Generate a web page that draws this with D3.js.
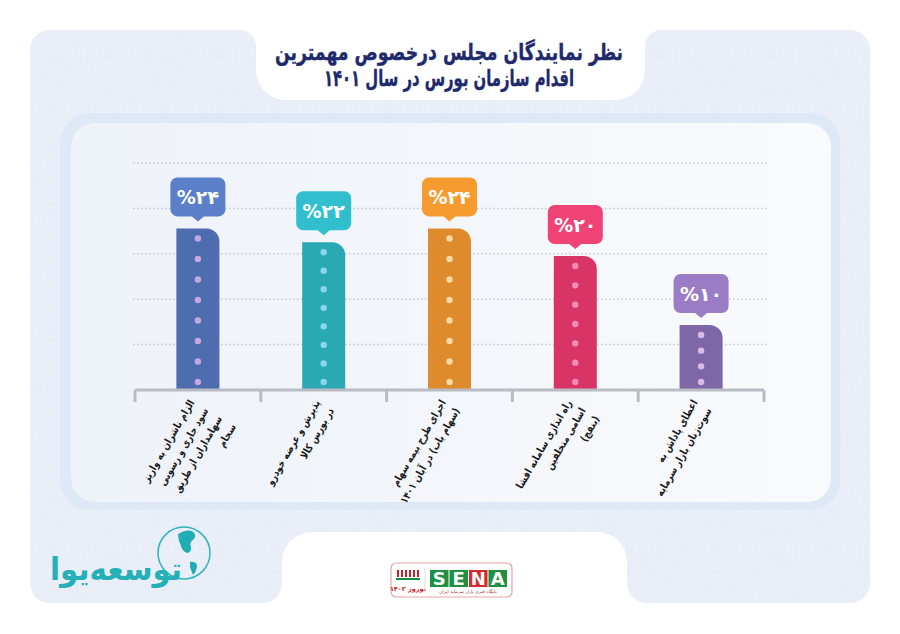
<!DOCTYPE html>
<html>
<head>
<meta charset="utf-8">
<script src="https://cdn.jsdelivr.net/npm/d3@7"></script>
<style>
  html, body { margin: 0; padding: 0; background: #ffffff; }
  svg { display: block; }
  text { font-family: "DejaVu Sans", "Noto Sans", sans-serif; }
</style>
</head>
<body>
<svg id="chart" width="900" height="634"></svg>
<script>
// ---------------- data ----------------
const titleLines = ["نظر نمایندگان مجلس درخصوص مهمترین", "اقدام سازمان بورس در سال ۱۴۰۱"];
const categories = ["c1", "c2", "c3", "c4", "c5"];
const categoryLabels = [
  ["الزام ناشران به واریز", "سود جاری و رسوبی", "سهامداران از طریق", "سجام"],
  ["پذیرش و عرضه خودرو", "در بورس کالا"],
  ["اجرای طرح بیمه سهام", "(سهام یاب) در آبان ۱۴۰۱"],
  ["راه اندازی سامانه افشا", "اسامی متخلفین", "(بنفج)"],
  ["اعطای پاداش به", "سوت‌زنان بازار سرمایه"]
];
const values = [24, 22, 24, 20, 10];
const valueLabels = ["%۲۴", "%۲۲", "%۲۴", "%۲۰", "%۱۰"];
const barColors = ["#4e6daf", "#2aa8b4", "#de8b2e", "#d83566", "#7e67a6"];
const boxColors = ["#5b80c9", "#31bfcd", "#f69b30", "#ef4376", "#9b7dc5"];
const dotColors = ["#c6a7e2", "#8ad6ec", "#fcd8a3", "#f18cb5", "#d9b8ea"];
const gridLevels = [1, 2, 3, 4, 5];

// ---------------- layout ----------------
const svg = d3.select("#chart");
const axisY = 390;
const x = d3.scaleBand().domain(categories).range([135, 764]).paddingInner(0.658).paddingOuter(0.329);
const y = d3.scaleLinear().domain([0, 30]).range([394, 187]);
const gridY = d3.scaleLinear().domain([0, 5]).range([axisY, 163]);

const defs = svg.append("defs");
const ig = defs.append("linearGradient").attr("id", "innerGrad").attr("x1", 0).attr("x2", 1).attr("y1", 0).attr("y2", 0);
ig.append("stop").attr("offset", "0%").attr("stop-color", "#eef2f9");
ig.append("stop").attr("offset", "100%").attr("stop-color", "#f9fafc");

// subtle swirl texture pattern
const pat = defs.append("pattern").attr("id", "swirl").attr("patternUnits", "userSpaceOnUse")
  .attr("width", 110).attr("height", 110);
pat.append("rect").attr("width", 110).attr("height", 110).attr("fill", "#e8edf7");
[[0, 0], [110, 0], [55, 55], [0, 110], [110, 110]].forEach(([cx, cy]) => {
  for (let r = 6; r <= 50; r += 6) {
    pat.append("circle").attr("cx", cx).attr("cy", cy).attr("r", r)
      .attr("fill", "none").attr("stroke", "#eef2f9").attr("stroke-width", 1).attr("opacity", 0.6);
  }
});

// outer panel with notches
const outer = d3.path();
outer.moveTo(50, 30);
outer.lineTo(240, 30);
outer.arcTo(256, 30, 256, 46, 16);
outer.lineTo(256, 70);
outer.arcTo(256, 100, 286, 100, 30);
outer.lineTo(615, 100);
outer.arcTo(645, 100, 645, 70, 30);
outer.lineTo(645, 46);
outer.arcTo(645, 30, 661, 30, 16);
outer.lineTo(850, 30);
outer.arcTo(870, 30, 870, 50, 20);
outer.lineTo(870, 583);
outer.arcTo(870, 603, 850, 603, 20);
outer.lineTo(647, 603);
outer.arcTo(627, 603, 627, 583, 20);
outer.lineTo(627, 562);
outer.arcTo(627, 532, 597, 532, 30);
outer.lineTo(312, 532);
outer.arcTo(282, 532, 282, 562, 30);
outer.lineTo(282, 583);
outer.arcTo(282, 603, 262, 603, 20);
outer.lineTo(50, 603);
outer.arcTo(30, 603, 30, 583, 20);
outer.lineTo(30, 50);
outer.arcTo(30, 30, 50, 30, 20);
outer.closePath();
svg.append("path").attr("d", outer.toString()).attr("fill", "url(#swirl)");

// inner panel
svg.append("rect").attr("x", 60).attr("y", 113).attr("width", 780).attr("height", 397)
  .attr("rx", 30).attr("fill", "#dfe8f6");
svg.append("rect").attr("x", 71).attr("y", 123).attr("width", 760).attr("height", 379)
  .attr("rx", 24).attr("fill", "url(#innerGrad)");

// title
const titleLen = [348, 250];
svg.append("g").selectAll("text").data(titleLines).join("text")
  .attr("x", (d, i) => 449 - titleLen[i] / 2).attr("y", (d, i) => 60 + i * 26)
  .attr("text-anchor", "start").attr("direction", "ltr")
  .attr("textLength", (d, i) => titleLen[i]).attr("lengthAdjust", "spacingAndGlyphs")
  .attr("font-size", 23).attr("font-weight", "bold").attr("fill", "#1e2a6c")
  .attr("stroke", "#1e2a6c").attr("stroke-width", 0.4)
  .text(d => d);

// gridlines
svg.append("g").selectAll("line").data(gridLevels).join("line")
  .attr("x1", 133).attr("x2", 767)
  .attr("y1", d => gridY(d)).attr("y2", d => gridY(d))
  .attr("stroke", "#c4c8d0").attr("stroke-width", 1.5).attr("stroke-dasharray", "1.5,2.5");

// bars
const bw = x.bandwidth();
const barG = svg.append("g").selectAll("g").data(values).join("g");
barG.append("path")
  .attr("d", (d, i) => {
    const x0 = x(categories[i]), x1 = x0 + bw, top = y(d), r = 13;
    const p = d3.path();
    p.moveTo(x0, axisY);
    p.lineTo(x0, top);
    p.lineTo(x1 - r, top);
    p.arcTo(x1, top, x1, top + r, r);
    p.lineTo(x1, axisY);
    p.closePath();
    return p.toString();
  })
  .attr("fill", (d, i) => barColors[i]);

// dots inside bars
barG.each(function (d, i) {
  const n = Math.ceil(d / 3);
  const top = y(d) + 10, bottom = 382;
  const cx = x(categories[i]) + bw / 2;
  const pts = d3.range(n).map(k => bottom - k * (bottom - top) / (n - 1));
  d3.select(this).selectAll("circle").data(pts).join("circle")
    .attr("cx", cx).attr("cy", p => p).attr("r", 3.2).attr("fill", dotColors[i]);
});

// value boxes
const boxW = 55, boxH = 39;
barG.append("path")
  .attr("d", (d, i) => {
    const cx = x(categories[i]) + bw / 2, bottom = y(d) - 12, top = bottom - boxH, r = 7;
    const l = cx - boxW / 2, rr = cx + boxW / 2;
    const p = d3.path();
    p.moveTo(l + r, top);
    p.lineTo(rr - r, top);
    p.arcTo(rr, top, rr, top + r, r);
    p.lineTo(rr, bottom - r);
    p.arcTo(rr, bottom, rr - r, bottom, r);
    p.lineTo(cx + 6, bottom);
    p.lineTo(cx, bottom + 5);
    p.lineTo(cx - 6, bottom);
    p.lineTo(l + r, bottom);
    p.arcTo(l, bottom, l, bottom - r, r);
    p.lineTo(l, top + r);
    p.arcTo(l, top, l + r, top, r);
    p.closePath();
    return p.toString();
  })
  .attr("fill", (d, i) => boxColors[i]);
barG.append("text")
  .attr("x", (d, i) => x(categories[i]) + bw / 2)
  .attr("y", d => y(d) - 12 - boxH / 2 + 7)
  .attr("text-anchor", "middle").attr("direction", "ltr")
  .attr("font-size", 19).attr("font-weight", "bold").attr("fill", "#ffffff")
  .text((d, i) => valueLabels[i]);

// axis
svg.append("line").attr("x1", 135).attr("x2", 764).attr("y1", axisY).attr("y2", axisY)
  .attr("stroke", "#b9bcc3").attr("stroke-width", 3);
const tickXs = categories.map(c => x(c) - x.step() * x.paddingOuter()).concat([764]);
svg.append("g").selectAll("line").data(tickXs).join("line")
  .attr("x1", d => d).attr("x2", d => d).attr("y1", axisY).attr("y2", 402)
  .attr("stroke", "#b9bcc3").attr("stroke-width", 3);

// category labels (rotated, RTL)
const lab = svg.append("g").selectAll("g").data(categoryLabels).join("g")
  .attr("transform", (d, i) => `translate(${x(categories[i]) + bw / 2 - 11},398) rotate(-60) scale(0.84,1)`);
lab.selectAll("text").data(d => d).join("text")
  .attr("x", 0).attr("y", (d, k) => 9 + k * 16)
  .attr("direction", "rtl").attr("text-anchor", "start")
  .attr("font-size", 10.5).attr("font-weight", "bold").attr("fill", "#1a1a1a")
  .text(d => d);

// ---------------- logos ----------------
// left brand logo
const lg = svg.append("g");
lg.append("circle").attr("cx", 184).attr("cy", 553).attr("r", 26)
  .attr("fill", "none").attr("stroke", "#2bb5bb").attr("stroke-width", 1.5);
lg.append("path").attr("d", "M178,534 q7,-5 14,-3 q5,3 2,8 q-5,3 -3,8 q1,5 -4,6 q-5,-2 -6,-7 q-3,-6 -3,-12 z")
  .attr("fill", "#22adb4");
lg.append("path").attr("d", "M190,562 q5,-1 7,3 q0,6 -4,10 q-2,-5 -3,-8 z").attr("fill", "#22adb4");
lg.append("text").attr("x", 50).attr("y", 580).attr("text-anchor", "start").attr("direction", "ltr")
  .attr("textLength", 132).attr("lengthAdjust", "spacingAndGlyphs")
  .attr("font-size", 32).attr("font-weight", "bold").attr("fill", "#25b0b7").text("توسعه‌یوا");

// SENA logo
const sg = svg.append("g");
sg.append("rect").attr("x", 391).attr("y", 563).attr("width", 121).attr("height", 34).attr("rx", 5)
  .attr("fill", "#ffffff").attr("stroke", "#e9a3a3").attr("stroke-width", 1.2);
d3.range(6).forEach(k => {
  sg.append("rect").attr("x", 397 + k * 4).attr("y", 570).attr("width", 2).attr("height", 7).attr("fill", "#c8202b");
});
sg.append("rect").attr("x", 396).attr("y", 578).attr("width", 24).attr("height", 2).attr("fill", "#1e8a3c");
sg.append("text").attr("x", 408).attr("y", 591).attr("text-anchor", "middle").attr("direction", "rtl")
  .attr("font-size", 6.5).attr("font-weight", "bold").attr("fill", "#c8202b").text("نوروز ۱۴۰۲");
sg.append("line").attr("x1", 425).attr("x2", 425).attr("y1", 568).attr("y2", 593).attr("stroke", "#ddd");
["S", "E", "N", "A"].forEach((ch, k) => {
  sg.append("rect").attr("x", 430 + k * 19.5).attr("y", 570).attr("width", 18.5).attr("height", 17)
    .attr("fill", ch === "N" ? "#d52a2e" : "#1f8f43");
  sg.append("text").attr("x", 439.2 + k * 19.5).attr("y", 585).attr("text-anchor", "middle")
    .attr("font-family", "Liberation Sans, Arial, sans-serif").attr("font-size", 18).attr("font-weight", "bold")
    .attr("fill", "#ffffff").text(ch);
});
sg.append("text").attr("x", 468).attr("y", 593).attr("text-anchor", "middle").attr("direction", "rtl")
  .attr("font-size", 4.5).attr("fill", "#a0302e").text("پایگاه خبری بازار سرمایه ایران");
</script>
</body>
</html>
